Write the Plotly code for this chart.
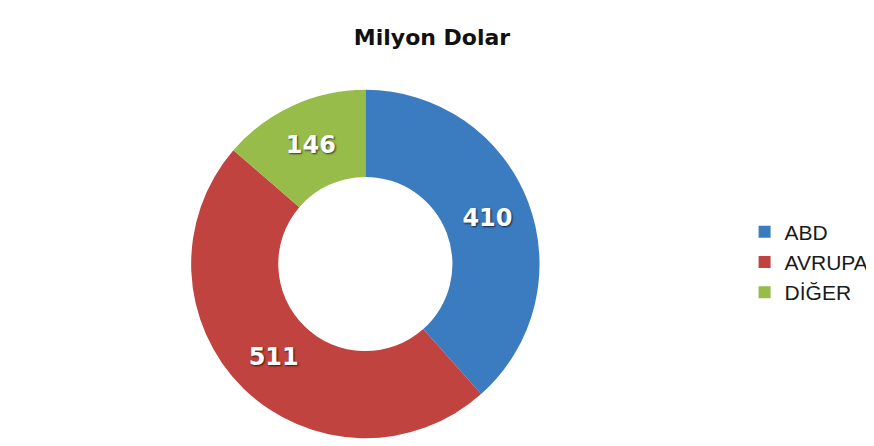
import plotly.graph_objects as go

labels = ["ABD", "AVRUPA", "DİĞER"]
values = [410, 511, 146]
colors = ["#3B7CC0", "#C0433F", "#98BC4A"]
title_text = "Milyon Dolar"

# page body has an 8px default margin; size the figure so it fits the window
OFF = 8
W, H = 874 - OFF, 446 - OFF
# target positions in window pixels, converted to figure pixels
cx, cy, r = 367 - OFF, 264 - OFF, 175

fig = go.Figure(
    go.Pie(
        labels=labels,
        values=values,
        hole=0.5,
        sort=False,
        direction="clockwise",
        rotation=0,
        marker=dict(colors=colors, line=dict(width=0)),
        texttemplate="%{value}",
        textposition="inside",
        insidetextorientation="horizontal",
        textfont=dict(family="DejaVu Sans", size=24, color="white", weight="bold",
                      shadow="1px 1px 2px rgba(0,0,0,0.7)"),
        domain=dict(x=[(cx - r) / W, (cx + r) / W],
                    y=[(H - cy - r) / H, (H - cy + r) / H]),
        hoverinfo="label+value",
    )
)

fig.update_layout(
    width=W,
    height=H,
    margin=dict(l=0, r=0, t=0, b=0),
    paper_bgcolor="white",
    plot_bgcolor="white",
    title=dict(text="<b>" + title_text + "</b>", x=(432 - OFF) / W, xanchor="center",
               y=1 - (37 - OFF) / H, yanchor="middle", yref="container",
               font=dict(family="DejaVu Sans", size=22, color="#111111")),
    legend=dict(x=(748 - OFF) / W, xanchor="left", y=1 - (262 - OFF) / H, yanchor="middle",
                font=dict(family="Liberation Sans", size=21, color="#1a1a1a"),
                bgcolor="rgba(0,0,0,0)"),
    showlegend=True,
)

fig.write_html("out.html")
